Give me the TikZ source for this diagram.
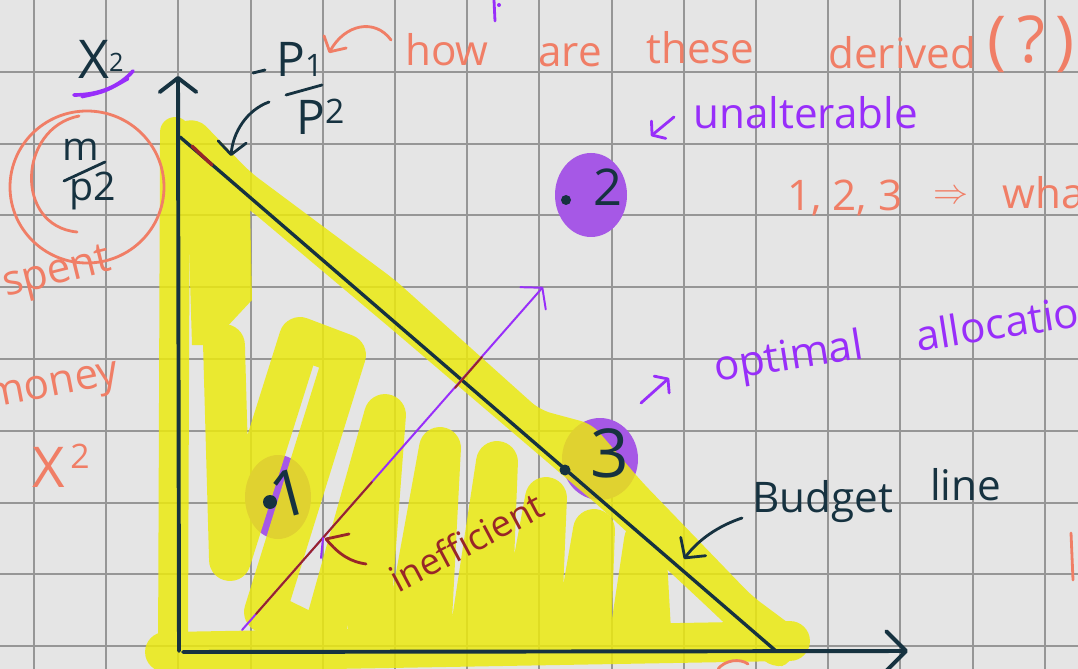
\documentclass[tikz,border=0pt]{standalone}
\usepackage{fontspec}
\setmainfont{Open Sans}
\usetikzlibrary{arrows.meta}

\definecolor{paper}{RGB}{229,229,229}
\definecolor{gridgray}{RGB}{150,150,150}
\definecolor{navyink}{RGB}{22,50,64}
\definecolor{salmonink}{RGB}{240,126,102}
\definecolor{purpleink}{RGB}{152,46,250}
\definecolor{blobpurple}{RGB}{166,88,230}
\definecolor{maroonink}{RGB}{152,38,40}
\definecolor{hlyellow}{RGB}{236,234,14}

\begin{document}
\begin{tikzpicture}[
  x=0.025cm, y=-0.025cm,
  gridline/.style={draw=gridgray, line width=1.3pt},
  hl/.style={draw=hlyellow, line cap=round, line join=round, line width=#1*0.709pt},
  pen/.style={draw=#1, line cap=round, line join=round, line width=2pt},
  hand/.style={inner sep=0pt, anchor=base west, font=\fontsize{30}{34}\selectfont},
  barb/.style={-{Straight Barb[round,#1]}},
  blob/.style={fill=blobpurple}
]
  \useasboundingbox (0,0) rectangle (1078,669);
  \clip (0,0) rectangle (1078,669);
  \fill[paper] (0,0) rectangle (1078,669);
  \foreach \gx in {0,...,14}
    \draw[gridline] ({34+72.2*\gx},0) -- ({34+72.2*\gx},669);
  \foreach \gy in {1,...,9}
    \draw[gridline] (0,{71.8*\gy}) -- (1078,{71.8*\gy});

  \fill[blob] (278,497) ellipse [x radius=33, y radius=42];
  \fill[blob] (591,195) ellipse [x radius=36, y radius=42];
  \fill[blob] (600,459) ellipse [x radius=38, y radius=41];

  \begin{scope}[transparency group, opacity=0.84]
    \fill[hlyellow, rounded corners=8pt] (165,126) -- (198,118) -- (250,172) -- (395,280)
      -- (540,410) -- (592,424) -- (642,482) -- (752,596) -- (795,628) -- (792,664)
      -- (772,668) -- (700,600) -- (600,507) -- (395,332) -- (250,210) -- (195,172) -- cycle;
    \draw[hl=30] (175,132) -- (173,650);
    \draw[hl=40] (165,652) -- (790,641);
    \fill[hlyellow] (186,148) -- (250,205) -- (252,300) -- (210,345) -- (192,345) -- cycle;
    \draw[hl=42] (224,345) -- (230,560) -- (300,338) -- (345,355) -- (265,612) -- (322,640)
      -- (385,415) -- (368,640) -- (405,640) -- (440,448) -- (430,640) -- (470,640)
      -- (497,462) -- (490,640) -- (520,640) -- (546,498) -- (540,640) -- (575,640)
      -- (594,530) -- (590,640) -- (630,640) -- (645,540) -- (650,630);
  \end{scope}

  \coordinate (O) at (179,651);
  \coordinate (ytip) at (178,76);
  \coordinate (xstart) at (183,652);
  \coordinate (xtip) at (908,651);
  \coordinate (bA) at (180,137);
  \coordinate (bB) at (776,651);
  \draw[pen=navyink, line width=2.8pt, barb={length=10pt,width=26pt}] (O) -- (ytip);
  \draw[pen=navyink, line width=2.8pt, barb={length=14pt,width=28pt}] (xstart) -- (xtip);
  \draw[pen=navyink, line width=2.4pt] (bA) -- (bB);
  \draw[pen=maroonink, line width=2.4pt] (192,146) -- (212,165);

  \coordinate (ia) at (242,630);
  \coordinate (ib) at (543,287);
  \draw[pen=purpleink, line width=1.4pt, barb={length=10pt,width=24pt}] (ia) -- (ib);
  \draw[pen=maroonink, line width=1.4pt] (256,614) -- (372,482);
  \draw[pen=maroonink, line width=1.4pt] (455,388) -- (482,357);
  \draw[pen=purpleink, line width=1.4pt] (323,538) -- (321,558);
  \draw[pen=maroonink] (349,534) -- (326,539) .. controls (340,556) and (352,562) .. (366,564);
  \node[hand, maroonink, rotate=28, font=\fontsize{26}{26}\selectfont] (ineff) at (398,594) {inefficient};

  \fill[navyink] (270,502) circle [radius=7];
  \node[navyink, inner sep=0pt, font=\fontsize{46}{46}\selectfont, rotate=15] (labone) at (289,493) {1};
  \fill[navyink] (566,200) circle [radius=5];
  \node[navyink, inner sep=0pt, font=\fontsize{36}{36}\selectfont] (labtwo) at (608,187) {2};
  \fill[navyink] (565,470) circle [radius=5.5];
  \node[navyink, inner sep=0pt, font=\fontsize{48}{48}\selectfont] (labthree) at (610,453) {3};

  \node[hand, navyink, font=\fontsize{38}{38}\selectfont] (xtwo) at (78,79) {X\raisebox{5pt}{\fontsize{18}{18}\selectfont 2}};
  \draw[pen=purpleink, line width=2.6pt] (74,95) .. controls (100,95) and (120,86) .. (133,71);
  \draw[pen=purpleink, line width=2pt] (82,97) .. controls (105,92) .. (128,79);

  \node[navyink, inner sep=0pt, font=\fontsize{28}{28}\selectfont] (mnum) at (81,150) {m};
  \draw[pen=navyink] (64,181) -- (105,162);
  \node[navyink, inner sep=0pt, font=\fontsize{28}{28}\selectfont] (pden) at (93,191) {p2};
  \draw[pen=salmonink] (87,187) ellipse [x radius=77, y radius=76];
  \draw[pen=salmonink] (79,116) .. controls (18,128) and (14,226) .. (77,232);

  \draw[pen=navyink] (253,73) -- (265,70);
  \node[hand, navyink, font=\fontsize{34}{34}\selectfont] (pone) at (276,77) {P{\fontsize{22}{22}\selectfont 1}};
  \draw[pen=navyink] (286,95) -- (322,85);
  \node[hand, navyink, font=\fontsize{34}{34}\selectfont] (ptwo) at (296,135) {P\raisebox{8pt}{\fontsize{24}{24}\selectfont 2}};
  \coordinate (parr0) at (269,102);
  \coordinate (parr1) at (231,156);
  \draw[pen=navyink, barb={length=9pt,width=20pt}] (parr0) .. controls (247,110) and (233,132) .. (parr1);

  \node[hand, salmonink] (how) at (405,66) {how};
  \node[hand, salmonink] (are) at (538,67) {are};
  \node[hand, salmonink] (these) at (646,64) {these};
  \node[hand, salmonink] (derived) at (828,69) {derived};
  \node[salmonink, inner sep=0pt, font=\fontsize{46}{46}\selectfont] (qmark) at (1031,44) {(\,?\,)};
  \coordinate (howarr0) at (391,40);
  \coordinate (howarr1) at (329,53);
  \draw[pen=salmonink, barb={length=8pt,width=18pt}] (howarr0) .. controls (375,18) and (345,24) .. (howarr1);

  \node[hand, purpleink] (unalt) at (693,129) {unalterable};
  \coordinate (ua0) at (674,117);
  \coordinate (ua1) at (651,136);
  \draw[pen=purpleink, barb={length=6pt,width=16pt}] (ua0) -- (ua1);

  \node[hand, salmonink] (list) at (787,211) {1, 2, 3};
  \node[salmonink, inner sep=0pt, font=\fontsize{30}{30}\selectfont] (implies) at (951,197) {$\Rightarrow$};
  \node[hand, salmonink] (wha) at (1002,209) {wha};

  \node[hand, purpleink, rotate=9] (optimal) at (716,382) {optimal};
  \node[hand, purpleink, rotate=9] (alloc) at (918,352) {allocation};
  \coordinate (oa0) at (641,403);
  \coordinate (oa1) at (669,378);
  \draw[pen=purpleink, barb={length=6pt,width=16pt}] (oa0) -- (oa1);

  \node[hand, navyink] (budget) at (752,512) {Budget};
  \node[hand, navyink] (bline) at (930,500) {line};
  \coordinate (ba0) at (742,518);
  \coordinate (ba1) at (684,559);
  \draw[pen=navyink, barb={length=10pt,width=22pt}] (ba0) .. controls (718,526) and (698,540) .. (ba1);

  \node[hand, salmonink, rotate=14] (spent) at (6,297) {spent};
  \node[hand, salmonink, rotate=11] (money) at (-12,409) {money};
  \node[hand, salmonink, font=\fontsize{40}{40}\selectfont] (xtwob) at (32,487) {X\hspace{4pt}\raisebox{13pt}{\fontsize{24}{24}\selectfont 2}};

  \draw[pen=salmonink] (1071,533) -- (1073,580);
  \draw[pen=salmonink] (718,669) .. controls (725,660) and (740,658) .. (748,664);
  \draw[pen=purpleink] (494,0) -- (495,21);
  \fill[purpleink] (499,5) circle [radius=2];
\end{tikzpicture}
\end{document}
